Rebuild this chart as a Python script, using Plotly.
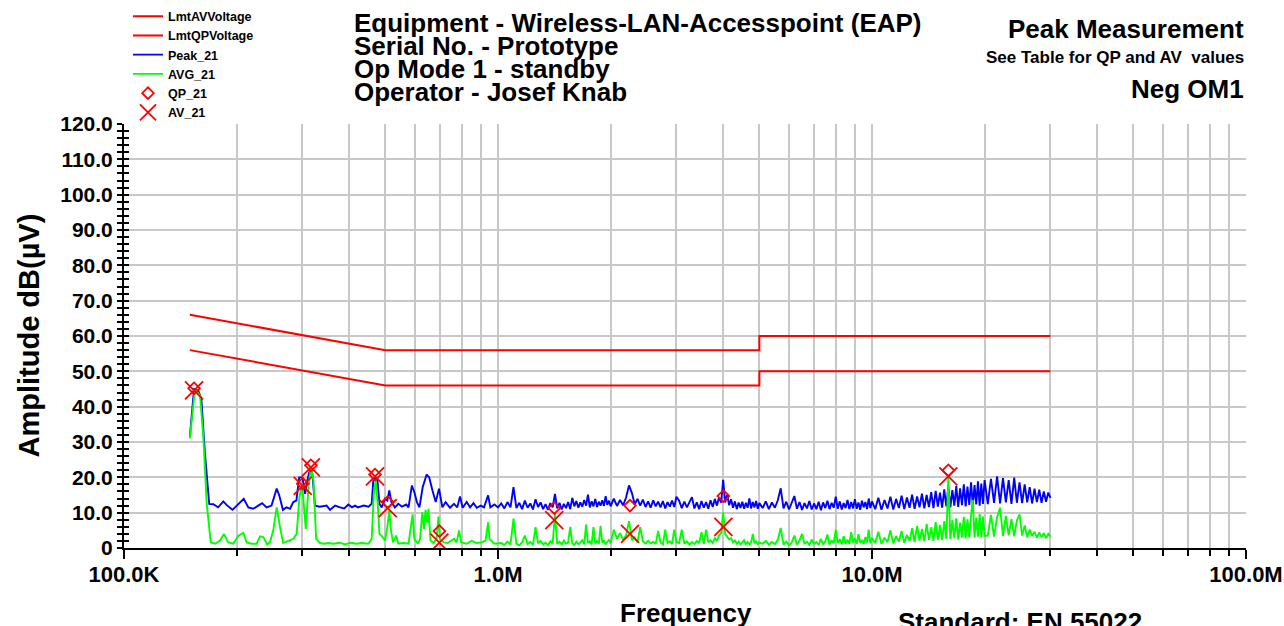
import plotly.graph_objects as go

# ---------------- data (frequencies in MHz, levels in dB(uV)) ----------------
lmt_freq = [0.15, 0.5, 5.0, 5.0, 30.0]
lmt_av_db = [56.0, 46.0, 46.0, 50.0, 50.0]
lmt_qp_db = [66.0, 56.0, 56.0, 60.0, 60.0]

peak_freq_lo = [0.150, 0.1539, 0.158, 0.161, 0.1646, 0.169, 0.1733, 0.1785, 0.1843, 0.188,
                0.195, 0.202, 0.209, 0.215, 0.2215, 0.2285, 0.234, 0.2405, 0.248, 0.256,
                0.260, 0.266, 0.272, 0.278, 0.2835, 0.289, 0.294, 0.300, 0.305, 0.309,
                0.3155, 0.319, 0.324, 0.334, 0.348, 0.3555, 0.367, 0.378, 0.388, 0.398,
                0.407, 0.4146, 0.4225, 0.437, 0.4505, 0.4595, 0.464, 0.469, 0.476, 0.482,
                0.4888, 0.4988, 0.506, 0.512, 0.519, 0.530, 0.5415, 0.5535, 0.5685, 0.5765,
                0.5885, 0.5975, 0.607, 0.6165, 0.629, 0.6445, 0.6545, 0.668, 0.6815, 0.6955,
                0.710, 0.7245, 0.744, 0.7625, 0.778, 0.7915, 0.8045, 0.8245, 0.842, 0.860,
                0.8775, 0.8995, 0.9175, 0.941, 0.954, 0.9785, 1.000]
peak_db_lo = [31.5, 45.0, 44.6, 42.2, 26.7, 12.5, 12.4, 11.5, 13.2, 12.2,
              10.8, 12.5, 13.9, 11.5, 11.1, 12.0, 12.7, 11.5, 12.0, 16.8,
              14.9, 10.8, 11.5, 11.1, 13.0, 13.4, 20.0, 20.0, 15.3, 19.1,
              22.9, 20.9, 12.0, 11.7, 12.0, 10.8, 12.0, 11.5, 11.2, 12.3,
              11.5, 12.0, 11.5, 12.0, 11.7, 12.5, 19.1, 19.8, 19.1, 12.5,
              11.5, 13.9, 13.4, 16.3, 13.0, 11.5, 12.5, 11.7, 12.3, 11.5,
              17.7, 15.8, 13.0, 11.5, 17.2, 20.8, 20.0, 16.3, 13.0, 16.8,
              11.5, 13.0, 11.4, 12.5, 11.5, 14.6, 11.4, 13.0, 11.5, 12.7,
              11.4, 12.0, 11.5, 14.9, 11.5, 12.3, 11.5]

avg_freq_lo = [0.150, 0.1548, 0.1597, 0.163, 0.1664, 0.1706, 0.1751, 0.1806, 0.185, 0.190,
               0.196, 0.2022, 0.2085, 0.2128, 0.2194, 0.2263, 0.231, 0.2358, 0.2415, 0.2455,
               0.2507, 0.256, 0.2613, 0.2665, 0.275, 0.2837, 0.2895, 0.2945, 0.2993, 0.303,
               0.3062, 0.3113, 0.3163, 0.3211, 0.3264, 0.3343, 0.3425, 0.3515, 0.3626, 0.378,
               0.3899, 0.403, 0.4185, 0.432, 0.4505, 0.4595, 0.4655, 0.471, 0.477, 0.482,
               0.4915, 0.4988, 0.506, 0.512, 0.5175, 0.524, 0.534, 0.5415, 0.558, 0.5765,
               0.585, 0.591, 0.5975, 0.6105, 0.619, 0.6275, 0.634, 0.640, 0.647, 0.652,
               0.660, 0.672, 0.6855, 0.693, 0.700, 0.716, 0.734, 0.7625, 0.775, 0.787,
               0.797, 0.8245, 0.851, 0.8775, 0.904, 0.926, 0.941, 0.949, 0.9785, 1.000]
avg_db_lo = [31.0, 45.0, 43.2, 31.4, 12.5, 1.6, 1.2, 2.1, 4.0, 1.6,
             1.2, 3.5, 4.3, 1.6, 1.2, 1.2, 3.3, 3.1, 1.0, 1.6,
             5.0, 11.5, 5.9, 1.4, 2.0, 2.6, 4.0, 14.4, 18.2, 10.6,
             5.4, 17.2, 22.9, 19.1, 2.6, 1.4, 1.2, 1.4, 1.2, 1.5,
             1.0, 1.5, 1.2, 1.4, 1.2, 2.6, 15.3, 19.1, 12.5, 4.0,
             3.1, 2.1, 5.9, 10.6, 5.0, 1.6, 3.5, 1.2, 1.4, 1.2,
             5.9, 9.5, 2.6, 1.2, 2.6, 10.1, 5.4, 10.8, 7.1, 11.1,
             2.1, 1.4, 2.6, 8.9, 2.6, 1.6, 1.4, 2.6, 1.6, 5.0,
             1.6, 1.2, 2.0, 1.4, 1.6, 2.1, 7.3, 2.6, 1.2, 1.4]

# shared sweep grid above 1 MHz
sweep_freq_hi = [
    1.02, 1.04, 1.06, 1.08, 1.10, 1.12, 1.14, 1.16, 1.18, 1.20,
    1.22, 1.24, 1.26, 1.28, 1.30, 1.32, 1.34, 1.36, 1.38, 1.40,
    1.42, 1.44, 1.46, 1.48, 1.50, 1.52, 1.54, 1.56, 1.58, 1.60,
    1.62, 1.64, 1.66, 1.68, 1.70, 1.72, 1.74, 1.76, 1.78, 1.80,
    1.82, 1.84, 1.86, 1.88, 1.90, 1.92, 1.94, 1.96, 1.98, 2.00,
    2.04, 2.08, 2.12, 2.16, 2.20, 2.24, 2.28, 2.32, 2.36, 2.40,
    2.44, 2.48, 2.52, 2.56, 2.60, 2.64, 2.68, 2.72, 2.76, 2.80,
    2.84, 2.88, 2.92, 2.96, 3.00,
    3.05, 3.10, 3.15, 3.20, 3.25, 3.30, 3.35, 3.40, 3.45, 3.50,
    3.55, 3.60, 3.65, 3.70, 3.75, 3.80, 3.85, 3.90, 3.95, 4.00,
    4.05, 4.10, 4.15, 4.20, 4.25, 4.30, 4.35, 4.40, 4.45, 4.50,
    4.55, 4.60, 4.65, 4.70, 4.75, 4.80, 4.85, 4.90, 4.95, 5.00,
    5.1, 5.2, 5.3, 5.4, 5.5, 5.6, 5.7, 5.8, 5.9, 6.0,
    6.1, 6.2, 6.3, 6.4, 6.5, 6.6, 6.7, 6.8, 6.9, 7.0,
    7.1, 7.2, 7.3, 7.4, 7.5, 7.6, 7.7, 7.8, 7.9, 8.0,
    8.1, 8.2, 8.3, 8.4, 8.5, 8.6, 8.7, 8.8, 8.9, 9.0,
    9.1, 9.2, 9.3, 9.4, 9.5, 9.6, 9.7, 9.8, 9.9, 10.0,
    10.2, 10.4, 10.6, 10.8, 11.0, 11.2, 11.4, 11.6, 11.8, 12.0,
    12.2, 12.4, 12.6, 12.8, 13.0, 13.2, 13.4, 13.6, 13.8, 14.0,
    14.2, 14.4, 14.6, 14.8, 15.0, 15.2, 15.4, 15.6, 15.8, 16.0,
    16.2, 16.4, 16.6, 16.8, 17.0, 17.2, 17.4, 17.6, 17.8, 18.0,
    18.2, 18.4, 18.6, 18.8, 19.0, 19.2, 19.4, 19.6, 19.8, 20.0,
    20.4, 20.8, 21.2, 21.6, 22.0, 22.4, 22.8, 23.2, 23.6, 24.0,
    24.4, 24.8, 25.2, 25.6, 26.0, 26.4, 26.8, 27.2, 27.6, 28.0,
    28.4, 28.8, 29.2, 29.6, 30.0]

peak_db_hi = [
    12.6, 11.2, 13.0, 11.5, 17.2, 11.3, 12.8, 11.0, 13.4, 11.4,
    12.6, 10.9, 13.8, 11.6, 12.9, 11.0, 12.4, 10.8, 12.7, 11.5,
    15.3, 11.2, 12.8, 10.9, 12.5, 11.3, 13.0, 11.0, 14.2, 11.8,
    13.3, 11.4, 12.9, 11.7, 13.6, 12.0, 15.1, 11.5, 13.2, 11.8,
    13.9, 11.6, 13.1, 12.0, 13.5, 11.9, 14.7, 12.2, 13.4, 11.8,
    14.0, 11.9, 13.6, 12.1, 14.3, 17.7, 15.6, 12.4, 13.9, 12.0,
    13.7, 11.6, 13.2, 11.4, 13.5, 11.8, 13.1, 11.5, 13.3, 11.2,
    13.0, 11.7, 13.4, 11.6, 14.5,
    13.4, 11.3, 13.1, 11.5, 13.0, 14.4, 11.2, 12.9, 11.0, 13.3,
    11.4, 13.0, 11.1, 13.5, 11.6, 13.9, 12.0, 14.4, 12.8, 19.3,
    12.9, 15.0, 12.1, 13.8, 11.4, 13.2, 11.0, 12.9, 11.3, 13.1,
    11.1, 12.8, 11.4, 14.0, 11.2, 13.0, 11.5, 13.3, 11.1, 12.7,
    11.3, 13.2, 11.0, 12.9, 11.4, 13.5, 16.9, 11.2, 13.1, 10.9,
    12.8, 14.7, 11.1, 13.0, 10.8, 12.7, 11.2, 13.3, 10.9, 12.6,
    11.0, 13.1, 10.7, 12.9, 11.3, 13.4, 11.0, 12.8, 11.4, 14.5,
    11.1, 13.2, 10.9, 12.7, 11.3, 13.6, 11.0, 13.0, 11.2, 13.8,
    11.1, 12.9, 10.8, 13.4, 11.5, 13.0, 11.0, 14.0, 11.3, 13.2,
    11.0, 14.2, 10.8, 13.6, 11.2, 14.5, 10.9, 13.9, 11.3, 14.8,
    11.0, 14.3, 11.4, 15.1, 11.1, 14.6, 11.5, 15.4, 11.2, 15.0,
    11.6, 15.8, 11.3, 16.2, 11.7, 15.7, 11.4, 16.6, 11.8, 17.3,
    11.5, 16.4, 12.0, 17.5, 11.6, 16.9, 12.1, 18.0, 11.8, 17.4,
    12.2, 18.6, 11.9, 17.8, 12.3, 18.9, 12.0, 18.2, 12.5, 19.2,
    12.4, 19.6, 12.8, 20.3, 12.6, 19.8, 12.9, 19.2, 12.5, 19.9,
    12.8, 18.6, 12.7, 18.0, 12.9, 17.2, 12.6, 16.8, 13.0, 16.5,
    12.8, 16.0, 13.1, 15.7, 14.2]

avg_db_hi = [
    1.4, 0.9, 1.8, 1.0, 8.3, 1.2, 0.8, 1.6, 3.5, 1.1,
    1.7, 0.9, 5.9, 1.3, 2.0, 1.0, 1.5, 0.8, 1.9, 1.2,
    9.7, 1.1, 1.8, 1.0, 2.1, 1.2, 1.6, 6.0, 1.3, 0.9,
    1.8, 1.1, 1.5, 2.2, 1.0, 6.6, 1.4, 1.9, 1.0, 5.9,
    1.3, 2.0, 1.1, 6.3, 1.5, 2.2, 1.0, 1.7, 2.4, 1.3,
    5.2, 2.6, 4.2, 2.3, 3.6, 7.6, 2.2, 3.0, 1.6, 5.9,
    1.9, 1.2, 2.0, 1.3, 1.8, 1.1, 4.8, 1.5, 1.0, 5.2,
    1.4, 1.9, 1.1, 5.2, 1.6,
    1.4, 5.2, 1.2, 1.9, 1.0, 1.7, 1.1, 2.0, 1.3, 4.5,
    1.2, 5.2, 1.6, 2.2, 1.4, 2.8, 2.0, 3.6, 4.2, 10.1,
    4.0, 3.3, 2.4, 2.8, 1.6, 2.1, 1.2, 1.8, 1.0, 1.6,
    2.2, 1.1, 1.7, 1.0, 1.5, 4.0, 1.3, 1.9, 1.1, 1.6,
    1.2, 2.0, 0.9, 1.7, 1.1, 2.3, 5.7, 1.0, 1.8, 0.8,
    1.6, 3.5, 1.0, 2.1, 4.0, 1.1, 1.8, 0.9, 2.4, 1.2,
    1.7, 0.9, 2.6, 1.1, 1.9, 3.8, 1.0, 2.2, 1.3, 5.2,
    1.4, 2.5, 1.0, 3.3, 1.2, 2.4, 1.1, 4.5, 1.5, 2.7,
    1.2, 3.9, 1.4, 2.3, 1.1, 3.1, 1.6, 5.2, 1.3, 2.8,
    1.4, 4.6, 1.2, 2.9, 1.6, 5.0, 1.3, 3.4, 1.8, 4.8,
    1.5, 3.7, 2.0, 5.6, 1.7, 6.2, 2.1, 5.4, 1.9, 6.8,
    2.3, 5.9, 2.0, 7.3, 2.4, 6.5, 2.2, 7.6, 2.6, 19.9,
    2.5, 7.9, 2.8, 8.4, 2.4, 7.2, 3.0, 8.8, 2.7, 8.1,
    3.1, 9.2, 13.6, 2.9, 8.6, 3.2, 9.6, 3.0, 8.9, 3.4,
    3.5, 9.4, 3.2, 8.7, 11.4, 3.4, 9.1, 3.6, 8.2, 3.3,
    7.8, 9.5, 3.5, 6.4, 3.1, 5.2, 3.4, 4.6, 2.9, 4.4,
    3.1, 4.2, 2.8, 4.0, 3.2]

final_freq = [0.1539, 0.3005, 0.316, 0.469, 0.507, 0.697, 1.414, 2.254, 4.005, 16.0]
qp_db = [45.2, 18.2, 23.4, 20.8, 13.0, 4.8, 11.3, 12.0, 14.7, 22.0]
av_db = [44.6, 17.6, 22.8, 20.3, 11.3, 1.5, 7.9, 4.0, 6.0, 20.3]

x_tick_vals = [0.1, 1, 10, 100]
x_tick_text = ["100.0K", "1.0M", "10.0M", "100.0M"]
x_minor_vals = [m * d for d in (0.1, 1, 10) for m in range(2, 10)]
y_tick_vals = list(range(0, 121, 10))
y_tick_text = ["0"] + [f"{v:.1f}" for v in range(10, 121, 10)]
y_minor_vals = list(range(0, 121, 2))

# ---------------- figure ----------------
FONT = "Liberation Sans, Arial, sans-serif"
W, H = 1284, 626
L, R, T, B = 124, 38, 124, 78
PW, PH = W - L - R, H - T - B


def px(xp):
    return (xp - L) / PW


def py(yp):
    return (H - B - yp) / PH


peak_freq = peak_freq_lo + sweep_freq_hi
peak_db = peak_db_lo + peak_db_hi
avg_freq = avg_freq_lo + sweep_freq_hi
avg_db = avg_db_lo + avg_db_hi

fig = go.Figure()
fig.add_trace(go.Scatter(x=lmt_freq, y=lmt_av_db, mode="lines", name="LmtAVVoltage",
                         line=dict(color="#ff0000", width=2)))
fig.add_trace(go.Scatter(x=lmt_freq, y=lmt_qp_db, mode="lines", name="LmtQPVoltage",
                         line=dict(color="#ff0000", width=2)))
fig.add_trace(go.Scatter(x=peak_freq, y=peak_db, mode="lines", name="Peak_21",
                         line=dict(color="#0000ff", width=1.9)))
fig.add_trace(go.Scatter(x=avg_freq, y=avg_db, mode="lines", name="AVG_21",
                         line=dict(color="#00ff00", width=1.9)))
fig.add_trace(go.Scatter(x=final_freq, y=qp_db, mode="markers", name="QP_21",
                         marker=dict(symbol="diamond-open", size=9, color="#ff0000",
                                     line=dict(color="#ff0000", width=1.8))))
fig.add_trace(go.Scatter(x=final_freq, y=av_db, mode="markers", name="AV_21",
                         marker=dict(symbol="x-thin-open", size=18, color="#ff0000",
                                     line=dict(color="#ff0000", width=1.8))))
# helper trace so the inside-tick y axis is drawn
fig.add_trace(go.Scatter(x=[1], y=[-10], yaxis="y2", mode="markers", showlegend=False,
                         hoverinfo="skip", marker=dict(opacity=0)))

tickfont = dict(family=FONT, color="black", weight="bold")

fig.update_layout(
    width=W, height=H,
    margin=dict(l=L, r=R, t=T, b=B, pad=0, autoexpand=False),
    paper_bgcolor="white", plot_bgcolor="white",
    font=dict(family=FONT, color="black"),
    showlegend=True,
    legend=dict(x=px(128), y=py(1.5), xanchor="left", yanchor="top",
                bgcolor="rgba(0,0,0,0)", borderwidth=0,
                font=dict(family=FONT, size=12.5, color="black", weight="bold"),
                tracegroupgap=0, itemsizing="trace"),
    xaxis=dict(type="log", range=[-1, 2], tickmode="array", automargin=False,
               tickvals=x_tick_vals, ticktext=x_tick_text,
               ticks="outside", ticklen=9, tickwidth=1.5, tickcolor="black",
               ticklabelstandoff=-3,
               tickfont=dict(size=22, **tickfont),
               showline=True, linecolor="black", linewidth=2,
               showgrid=True, gridcolor="#c8c8c8", gridwidth=2, zeroline=False,
               minor=dict(tickmode="array", tickvals=x_minor_vals, ticks="outside",
                          ticklen=6, tickwidth=1.5, tickcolor="black",
                          showgrid=True, gridcolor="#c8c8c8", gridwidth=2)),
    yaxis=dict(range=[0, 120], tickmode="array", tickvals=y_tick_vals, ticktext=y_tick_text,
               automargin=False,
               ticks="outside", ticklen=5, tickwidth=1.5, tickcolor="black",
               tickfont=dict(size=21, **tickfont),
               showline=True, linecolor="black", linewidth=2,
               showgrid=True, gridcolor="#c8c8c8", gridwidth=2, zeroline=False,
               minor=dict(tickmode="array", tickvals=y_minor_vals, ticks="outside",
                          ticklen=5, tickwidth=1.5, tickcolor="black", showgrid=False)),
    yaxis2=dict(range=[0, 120], overlaying="y", anchor="x", side="left", automargin=False,
                tickmode="array", tickvals=y_tick_vals, showticklabels=False,
                ticks="inside", ticklen=5, tickwidth=1.5, tickcolor="black",
                showline=False, showgrid=False, zeroline=False,
                minor=dict(tickmode="array", tickvals=y_minor_vals, ticks="inside",
                           ticklen=5, tickwidth=1.5, tickcolor="black", showgrid=False)),
)

ann = []


def add_text(text, xp, yp, size, xanchor="left", angle=0):
    ann.append(dict(text=text, x=px(xp), y=py(yp), xref="paper", yref="paper",
                    xanchor=xanchor, yanchor="middle", showarrow=False, textangle=angle,
                    font=dict(family=FONT, size=size, color="black", weight="bold")))


title_lines = ["Equipment - Wireless-LAN-Accesspoint (EAP)", "Serial No. - Prototype",
               "Op Mode 1 - standby", "Operator - Josef Knab"]
for i, t in enumerate(title_lines):
    add_text(t, 352, 23 + i * 23, 26)

add_text("Peak Measurement", 1246, 28.5, 26, xanchor="right")
add_text("See Table for QP and AV\u00a0 values", 1246, 58, 17, xanchor="right")
add_text("Neg OM1", 1246, 88.5, 26, xanchor="right")
add_text("Frequency", 686, 613, 26, xanchor="center")
add_text("Standard: EN 55022", 896, 622, 26)
add_text("Amplitude dB(\u00b5V)", 28, 335.5, 29, xanchor="center", angle=-90)

fig.update_layout(annotations=ann)
fig.write_html("out.html")
